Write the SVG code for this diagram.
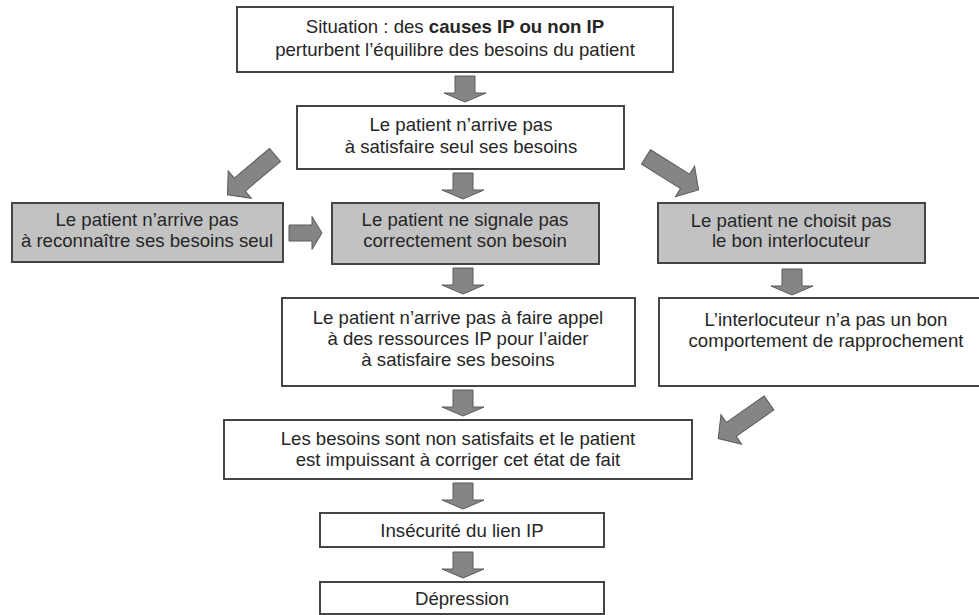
<svg xmlns="http://www.w3.org/2000/svg" xmlns:xlink="http://www.w3.org/1999/xlink" width="979" height="615" viewBox="0 0 979 615">
<style>
  .box { fill: #ffffff; stroke: #444444; stroke-width: 2; }
  .gbox { fill: #c2c2c2; stroke: #444444; stroke-width: 2; }
  .t { font-family: "Liberation Sans", Arial, sans-serif; font-size: 18.6px; fill: #262626; text-anchor: middle; }
  .b { font-weight: bold; }
  .arr { fill: #858585; stroke: #5a5a5a; stroke-width: 1; }
</style>
<defs>
  <path id="down" d="M-10,0 H10 V17 H21 L0,26 L-21,17 H-10 Z"/>
  <path id="right" d="M0,-8 H23 V-16.5 L33,0 L23,16.5 V8 H0 Z"/>
  <path id="diag" d="M0,-8.5 H46 V-18 L62,0 L46,18 V8.5 H0 Z"/>
</defs>
<rect width="979" height="615" fill="#ffffff"/>

<g id="connectors">
  <use href="#down" class="arr" x="465" y="76"/>
  <use href="#down" class="arr" x="463" y="173"/>
  <use href="#down" class="arr" x="463" y="268"/>
  <use href="#down" class="arr" x="463" y="390"/>
  <use href="#down" class="arr" x="463" y="483"/>
  <use href="#down" class="arr" x="463" y="552"/>
  <use href="#down" class="arr" x="792" y="269"/>
  <use href="#right" class="arr" x="289" y="233"/>
  <use href="#diag" class="arr" transform="translate(275,155) rotate(140)"/>
  <use href="#diag" class="arr" transform="translate(646,157) rotate(32)"/>
  <use href="#diag" class="arr" transform="translate(769,403) rotate(145)"/>
</g>

<g id="n1">
  <rect class="box" x="237" y="7" width="436" height="65"/>
  <text class="t" x="455" y="33">Situation : des <tspan class="b">causes IP ou non IP</tspan></text>
  <text class="t" x="455" y="56">perturbent l’équilibre des besoins du patient</text>
</g>
<g id="n2">
  <rect class="box" x="297" y="106" width="327" height="63"/>
  <text class="t" x="461" y="131">Le patient n’arrive pas</text>
  <text class="t" x="461" y="153">à satisfaire seul ses besoins</text>
</g>
<g id="n3">
  <rect class="gbox" x="12" y="203" width="271" height="59"/>
  <text class="t" x="147" y="226">Le patient n’arrive pas</text>
  <text class="t" x="147" y="247">à reconnaître ses besoins seul</text>
</g>
<g id="n4">
  <rect class="gbox" x="332" y="203" width="267" height="61"/>
  <text class="t" x="465" y="226">Le patient ne signale pas</text>
  <text class="t" x="465" y="247">correctement son besoin</text>
</g>
<g id="n5">
  <rect class="gbox" x="658" y="203" width="267" height="60"/>
  <text class="t" x="791" y="227">Le patient ne choisit pas</text>
  <text class="t" x="791" y="247">le bon interlocuteur</text>
</g>
<g id="n6">
  <rect class="box" x="282" y="298" width="353" height="88"/>
  <text class="t" x="458" y="324">Le patient n’arrive pas à faire appel</text>
  <text class="t" x="458" y="345">à des ressources IP pour l’aider</text>
  <text class="t" x="458" y="366">à satisfaire ses besoins</text>
</g>
<g id="n7">
  <rect class="box" x="659" y="298" width="334" height="88"/>
  <text class="t" x="826" y="326">L’interlocuteur n’a pas un bon</text>
  <text class="t" x="826" y="347">comportement de rapprochement</text>
</g>
<g id="n8">
  <rect class="box" x="224" y="420" width="468" height="59"/>
  <text class="t" x="458" y="445">Les besoins sont non satisfaits et le patient</text>
  <text class="t" x="458" y="466">est impuissant à corriger cet état de fait</text>
</g>
<g id="n9">
  <rect class="box" x="320" y="513" width="284" height="34"/>
  <text class="t" x="462" y="537">Insécurité du lien IP</text>
</g>
<g id="n10">
  <rect class="box" x="320" y="582" width="284" height="32"/>
  <text class="t" x="462" y="605">Dépression</text>
</g>
</svg>
